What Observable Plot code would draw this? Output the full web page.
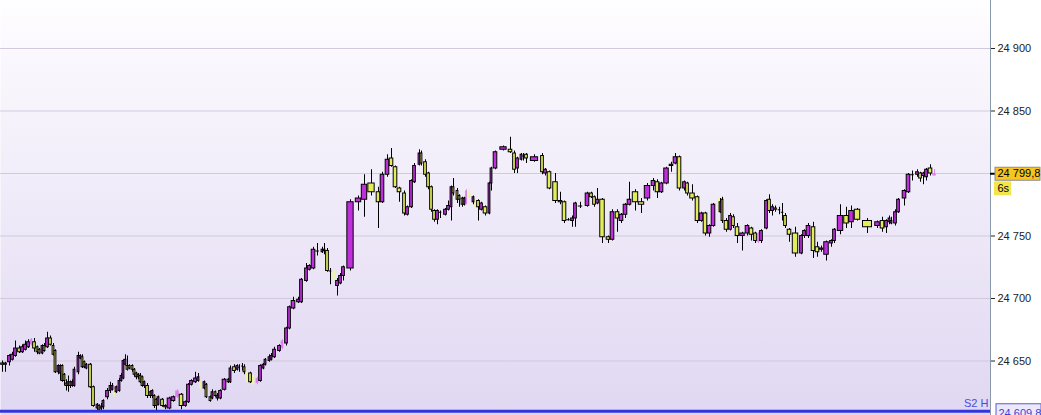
<!DOCTYPE html>
<html><head><meta charset="utf-8">
<script src="https://cdn.jsdelivr.net/npm/d3@7"></script>
<script src="https://cdn.jsdelivr.net/npm/@observablehq/plot@0.6"></script>
<style>html,body{margin:0;padding:0;background:#fff;overflow:hidden}</style>
</head><body><div id="chart"></div>
<script>
// bar times (time units from the left edge of the window)
const times = [
2,5,9,12,15,19,22,25,28,31,34,37,39,42,44,47,50,53,55,58,60,62,64,66,68,70,72,74,78,80,82,84,86,90,93,97,99,101,103,107,110,112,114,116,119,121,123,125,127,129,132,134,136,138,140,142,144,147,150,152,154,156,158,
162,165,169,173,177,181,185,188,191,195,198,200,204,206,210,212,215,217,220,224,228,230,234,237,239,242,244,247,250,253,257,260,263,265,269,271,274,279,282,286,289,293,298,301,306,309,313,317,322,324,327,330,
334,337,340,343,350,358,364,371,378,382,387,391,395,399,404,407,411,414,419,421,425,428,431,434,437,440,445,448,451,453,457,459,462,464,466,469,473,475,478,481,485,489,491,495,503,
510,514,517,521,523,526,534,542,545,549,555,560,564,568,572,575,580,587,591,594,597,602,608,612,617,621,625,629,635,641,647,653,
657,661,666,671,675,679,684,687,692,697,701,705,709,713,718,720,722,726,730,733,737,742,747,751,755,758,761,766,769,772,775,779,782,785,789,795,801,804,808,
813,817,821,826,831,834,840,846,851,857,867,877,882,886,889,891,895,898,904,908,912,917,920,923,926,930,934];
const opens = [
24648,24647,24649,24651,24654,24660,24657,24659,24661,24663,24665,24661,24659,24656,24662,24661,24668,24662,24658,24641,24640,24646,24639,24632,24630,24633,24630,24630,24641,24652,24653,24649,24644,24647,24629,24612,24614,24613,24613,24621,24626,24627,24626,24625,24626,24634,24636,24647,24646,24646,24646,24643,24640,24637,24638,24637,24630,24630,24625,24622,24622,24619,24615,
24619,24614,24612,24618,24621,24623,24614,24617,24631,24633,24634,24633,24628,24631,24621,24620,24625,24620,24620,24627,24635,24633,24645,24643,24645,24646,24645,24641,24640,24638,24632,24634,24644,24647,24650,24651,24653,24658,24660,24664,24676,24692,24697,24697,24714,24723,24724,24738,24737,24738,24738,24722,
24721,24710,24712,24718,24724,24777,24779,24792,24785,24777,24799,24812,24805,24788,24784,24767,24773,24793,24807,24816,24809,24800,24789,24770,24763,24769,24767,24771,24773,24789,24786,24782,24780,24775,24776,24786,24777,24780,24778,24771,24773,24768,24792,24804,24819,
24819,24816,24804,24811,24814,24815,24810,24814,24800,24801,24793,24778,24777,24763,24762,24764,24774,24774,24784,24781,24776,24779,24749,24747,24769,24762,24767,24775,24785,24777,24780,24790,
24793,24785,24792,24806,24808,24813,24788,24792,24784,24781,24762,24768,24752,24758,24778,24769,24779,24762,24755,24765,24757,24750,24752,24756,24752,24745,24746,24756,24779,24770,24772,24771,24769,24766,24755,24752,24736,24750,24750,
24757,24741,24739,24735,24744,24746,24754,24766,24761,24771,24762,24758,24762,24757,24761,24760,24760,24769,24780,24785,24799,24799,24800,24798,24797,24804,24798];
const highs = [
24650,24649,24655,24657,24666,24662,24663,24666,24667,24668,24668,24662,24660,24663,24664,24673,24670,24664,24659,24647,24647,24647,24640,24635,24638,24634,24635,24645,24657,24655,24655,24650,24648,24648,24630,24616,24615,24616,24619,24628,24633,24632,24627,24630,24636,24640,24651,24655,24654,24647,24647,24644,24641,24640,24640,24638,24634,24632,24626,24627,24623,24620,24622,
24620,24615,24621,24622,24627,24624,24618,24632,24635,24641,24640,24634,24634,24632,24622,24627,24626,24624,24627,24636,24636,24646,24647,24647,24647,24648,24647,24642,24641,24640,24637,24647,24648,24652,24655,24656,24661,24663,24667,24677,24694,24701,24701,24716,24728,24727,24741,24744,24741,24744,24740,24724,
24722,24716,24720,24726,24779,24782,24799,24803,24789,24801,24815,24820,24806,24789,24786,24774,24795,24808,24819,24818,24811,24801,24790,24771,24771,24770,24772,24778,24790,24796,24788,24783,24781,24781,24787,24788,24782,24781,24779,24777,24774,24793,24805,24818,24822,
24829,24818,24813,24816,24816,24816,24815,24816,24804,24802,24800,24785,24778,24764,24766,24777,24777,24785,24785,24782,24788,24780,24750,24771,24771,24768,24776,24793,24787,24780,24792,24796,
24795,24793,24805,24809,24816,24814,24794,24793,24791,24782,24769,24769,24759,24776,24780,24780,24781,24764,24768,24767,24760,24753,24759,24757,24753,24753,24755,24779,24783,24775,24774,24773,24776,24768,24756,24757,24751,24755,24760,
24761,24745,24742,24746,24747,24756,24775,24773,24774,24772,24764,24762,24765,24763,24766,24765,24771,24780,24787,24800,24802,24803,24801,24801,24804,24807,24803];
const lows = [
24641,24641,24646,24650,24653,24656,24656,24658,24660,24662,24657,24655,24655,24655,24657,24660,24662,24654,24640,24639,24634,24633,24630,24626,24625,24628,24629,24629,24639,24651,24644,24644,24643,24628,24613,24609,24609,24609,24611,24619,24624,24626,24621,24624,24625,24633,24635,24646,24642,24643,24641,24637,24635,24635,24632,24629,24628,24620,24620,24620,24612,24610,24614,
24613,24611,24611,24617,24620,24611,24613,24616,24630,24632,24633,24627,24627,24620,24617,24619,24621,24618,24619,24626,24632,24632,24640,24642,24641,24642,24639,24632,24632,24630,24631,24633,24643,24646,24649,24650,24652,24657,24659,24662,24675,24691,24696,24696,24713,24722,24723,24734,24736,24735,24721,24711,
24715,24702,24711,24714,24722,24770,24765,24782,24756,24776,24797,24805,24788,24777,24766,24766,24772,24792,24806,24806,24797,24787,24769,24761,24759,24764,24766,24770,24762,24782,24776,24773,24773,24774,24775,24778,24775,24772,24762,24770,24766,24767,24786,24803,24818,
24816,24800,24800,24810,24810,24808,24809,24799,24798,24787,24776,24775,24760,24762,24757,24757,24772,24773,24780,24773,24775,24744,24744,24746,24753,24760,24764,24774,24770,24768,24778,24786,
24780,24784,24791,24801,24807,24786,24786,24782,24778,24760,24761,24750,24749,24757,24769,24768,24760,24753,24754,24756,24744,24738,24750,24746,24744,24744,24744,24755,24768,24766,24769,24767,24762,24756,24745,24733,24735,24748,24748,
24732,24733,24737,24730,24741,24744,24751,24756,24756,24762,24752,24756,24753,24752,24759,24759,24758,24768,24774,24784,24794,24797,24793,24791,24794,24798,24798];
const closes = [
24647,24648,24654,24655,24660,24657,24661,24663,24665,24667,24660,24657,24656,24662,24658,24668,24663,24655,24641,24646,24646,24634,24634,24630,24633,24630,24633,24643,24654,24654,24645,24645,24647,24629,24614,24615,24611,24612,24618,24626,24630,24630,24622,24629,24634,24638,24650,24651,24643,24644,24643,24639,24637,24639,24633,24630,24633,24622,24622,24626,24614,24614,24621,
24614,24613,24620,24621,24626,24614,24617,24631,24634,24636,24637,24628,24633,24621,24618,24625,24622,24622,24626,24635,24633,24644,24642,24646,24645,24646,24641,24633,24633,24631,24636,24646,24647,24651,24653,24654,24659,24662,24666,24676,24693,24698,24699,24715,24724,24726,24739,24738,24739,24739,24722,24722,
24716,24714,24718,24725,24777,24780,24791,24785,24777,24799,24811,24806,24789,24785,24768,24773,24794,24806,24816,24808,24799,24789,24771,24763,24770,24769,24771,24774,24789,24784,24779,24779,24775,24780,24786,24780,24781,24773,24773,24776,24768,24792,24804,24817,24821,
24817,24803,24812,24815,24814,24812,24813,24801,24803,24788,24778,24777,24762,24763,24764,24776,24774,24784,24781,24775,24779,24749,24747,24769,24764,24767,24775,24779,24777,24775,24790,24794,
24785,24792,24804,24807,24813,24788,24793,24784,24780,24762,24768,24752,24758,24775,24770,24777,24762,24755,24766,24758,24750,24752,24758,24751,24746,24752,24754,24778,24770,24773,24771,24771,24769,24758,24751,24736,24750,24754,24758,
24738,24737,24740,24745,24746,24755,24766,24760,24770,24763,24757,24761,24756,24762,24764,24762,24769,24779,24786,24799,24799,24801,24796,24800,24803,24800,24799.8];
// bars drawn faintly (no outline) in the reference
const paleBars = [9,42,67,74,90,92,93,101,115,149,150,152,206,217,257];

const tickValues = [24650, 24700, 24750, 24800, 24850, 24900];
const tickLabels = ["24 650", "24 700", "24 750", "24 800", "24 850", "24 900"];
const lastPrice = 24799.8, lastLabel = "24 799,8", timerLabel = "6s";
const levelPrice = 24609.8, levelName = "S2 H", levelLabel = "24 609,8";
const xDomain = [0, 990];
const yDomain = [24606.4, 24938.4];

const UP = "#bf2fdc", DOWN = "#e3ed5c", UP_PALE = "#dc82ee", DOWN_PALE = "#eef3a6";
const paleSet = new Set(paleBars);
const candles = times.map((t, i) => {
  const gp = i > 0 ? t - times[i - 1] : times[1] - times[0];
  const gn = i < times.length - 1 ? times[i + 1] - t : gp;
  const hw = Math.max(0.85, Math.min(0.45 * Math.min(gp, gn), 5));
  return {t, open: opens[i], high: highs[i], low: lows[i], close: closes[i], hw,
          up: closes[i] >= opens[i], pale: paleSet.has(i)};
});
const solid = candles.filter(d => !d.pale);
const pale = candles.filter(d => d.pale);
const xMax = xDomain[1];
// the axis label hidden behind the live-price box is not drawn
const shownTicks = tickValues.filter(v => Math.abs(v - lastPrice) > 8);

const chart = Plot.plot({
  width: 1041, height: 415,
  marginLeft: 0, marginTop: 0, marginBottom: 0, marginRight: 51,
  style: {fontFamily: "'Liberation Sans', Arial, sans-serif", fontSize: "11px", background: "#fff", color: "#222"},
  x: {domain: xDomain, axis: null},
  y: {domain: yDomain, axis: "right", ticks: shownTicks, tickFormat: d => tickLabels[tickValues.indexOf(d)],
      tickSize: 4, tickPadding: 3, label: null},
  color: {type: "identity"},
  marks: [
    Plot.frame({fill: "url(#bg)", stroke: null}),
    Plot.ruleY(tickValues, {stroke: "#d2c9df"}),
    Plot.ruleX(pale, {x: "t", y1: "low", y2: "high", stroke: d => d.up ? UP_PALE : DOWN_PALE}),
    Plot.rect(pale, {x1: d => d.t - d.hw, x2: d => d.t + d.hw, y1: "open", y2: "close",
                     fill: d => d.up ? UP_PALE : DOWN_PALE}),
    Plot.ruleX(solid, {x: "t", y1: "low", y2: "high", stroke: "#000"}),
    Plot.rect(solid, {x1: d => d.t - d.hw, x2: d => d.t + d.hw, y1: "open", y2: "close",
                      fill: d => d.up ? UP : DOWN, stroke: "#000", strokeWidth: 1}),
    Plot.ruleY(solid.filter(d => Math.abs(d.open - d.close) < 0.5),
               {y: "close", x1: d => d.t - d.hw, x2: d => d.t + d.hw, stroke: "#000"}),
    Plot.ruleY([levelPrice], {stroke: "#3434de", strokeWidth: 3}),
    Plot.text([levelPrice], {x: () => xMax, y: d => d, text: () => levelName, textAnchor: "end",
                             dx: -2, dy: -8, fill: "#4a4ae0", fontSize: 11}),
    Plot.ruleX([xMax], {stroke: "#8a99aa"}),
    // current price marker on the axis
    Plot.ruleY([lastPrice], {x1: () => xMax, x2: () => xMax, insetRight: -5, stroke: "#000", strokeWidth: 2}),
    Plot.rect([lastPrice], {x1: () => xMax, x2: () => xMax, y1: d => d, y2: d => d,
                            insetLeft: 5, insetRight: -50, insetTop: -6, insetBottom: -7,
                            fill: "#f6c51f", stroke: "#8c8c8c"}),
    Plot.text([lastPrice], {x: () => xMax, y: d => d, text: () => lastLabel, textAnchor: "start",
                            dx: 7, fill: "#000", fontSize: 11}),
    Plot.rect([lastPrice], {x1: () => xMax, x2: () => xMax, y1: d => d, y2: d => d,
                            insetLeft: 4, insetRight: -21, insetTop: 8, insetBottom: -22,
                            fill: "#f3e64c"}),
    Plot.text([lastPrice], {x: () => xMax, y: d => d, text: () => timerLabel, textAnchor: "start",
                            dx: 7, dy: 15, fill: "#000", fontSize: 11}),
    // support level label on the axis
    Plot.rect([levelPrice], {x1: () => xMax, x2: () => xMax, y1: d => d, y2: d => d,
                             insetLeft: 6, insetRight: -51, insetTop: -7, insetBottom: -12,
                             fill: "#ece9fb", stroke: "#5a5ae0"}),
    Plot.text([levelPrice], {x: () => xMax, y: d => d, text: () => levelLabel, textAnchor: "start",
                             dx: 8, dy: 2, fill: "#3f3fdc", fontSize: 11})
  ]
});

const defs = d3.create("svg:defs");
const g = defs.append("linearGradient").attr("id", "bg").attr("x1", 0).attr("y1", 0).attr("x2", 0).attr("y2", 1);
g.append("stop").attr("offset", "0%").attr("stop-color", "#fefdff");
g.append("stop").attr("offset", "100%").attr("stop-color", "#e0d7f2");
chart.insertBefore(defs.node(), chart.firstChild);
document.getElementById("chart").appendChild(chart);
</script>
</body></html>
